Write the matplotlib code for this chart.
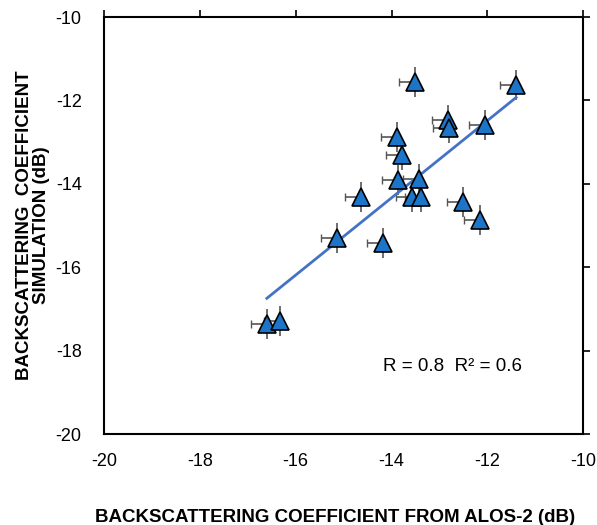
import numpy as np
import matplotlib
matplotlib.use("Agg")
import matplotlib.pyplot as plt

plt.rcParams['font.family'] = ['Liberation Sans', 'DejaVu Sans']
plt.rcParams['axes.unicode_minus'] = False

# ALOS-2 backscatter (x) vs simulated backscatter (y), dB
alos2 = [-13.51, -11.40, -12.82, -12.80, -12.05, -13.88, -13.78, -13.86, -13.42,
         -13.57, -13.38, -14.63, -12.51, -12.15, -15.14, -14.18, -16.60, -16.33]
simulation = [-11.56, -11.63, -12.47, -12.66, -12.59, -12.88, -13.31, -13.91, -13.88,
              -14.32, -14.32, -14.32, -14.43, -14.87, -15.30, -15.42, -17.36, -17.29]
x_err_left = 0.33
y_err = 0.36

x_ticks = [-20, -18, -16, -14, -12, -10]
y_ticks = [-20, -18, -16, -14, -12, -10]

fig = plt.figure(figsize=(5.97, 5.25), dpi=100)
ax = fig.add_axes([0.174, 0.1733, 0.803, 0.7943])

x = np.array(alos2)
y = np.array(simulation)

# droite de tendance
a, b = np.polyfit(x, y, 1)
xl = np.array([x.min(), x.max()])
ax.plot(xl, a * xl + b, color='#4472C4', lw=2, zorder=2)

ax.errorbar(x, y, xerr=[np.full_like(x, x_err_left), np.zeros_like(x)],
            fmt='none', ecolor='#555555', elinewidth=1.2, capsize=3, zorder=1)
ax.errorbar(x, y, yerr=y_err, fmt='none', ecolor='#555555', elinewidth=1.2,
            capsize=0, zorder=1)
ax.plot(x, y, linestyle='none', marker='^', markersize=13,
        markerfacecolor='#1C75C8', markeredgecolor='black', markeredgewidth=1.2, zorder=3)

ax.text(-12.73, -18.39, 'R = 0.8  R² = 0.6', fontsize=13.5, ha='center', va='center')

ax.set_xlim(-20, -10)
ax.set_ylim(-20, -10)
ax.set_xticks(x_ticks)
ax.set_yticks(y_ticks)
ax.tick_params(top=True, right=True, bottom=False, left=False,
               labelbottom=True, labelleft=True, direction='out', length=5,
               width=1.2, labelsize=13)
ax.tick_params(axis='x', pad=9)
ax.tick_params(axis='y', pad=11)
for s in ax.spines.values():
    s.set_linewidth(1.5)

ax.set_xlabel('BACKSCATTERING COEFFICIENT FROM ALOS-2 (dB)', fontsize=13.5,
              fontweight='bold', labelpad=28)
ax.xaxis.label.set_x(0.482)
ax.set_ylabel('BACKSCATTERING  COEFFICIENT\nSIMULATION (dB)', fontsize=13.5,
              fontweight='bold', labelpad=4, linespacing=1.0)

fig.savefig('out.png', dpi=100)
